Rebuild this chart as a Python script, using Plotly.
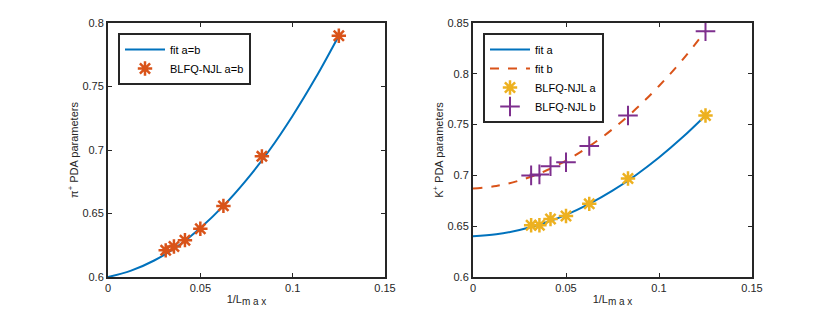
import plotly.graph_objects as go

# ---- data ----
x_pts = [0.125, 0.08333, 0.0625, 0.05, 0.04167, 0.03571, 0.03125]
pion_ab = [0.790, 0.695, 0.656, 0.638, 0.629, 0.624, 0.621]
kaon_a = [0.759, 0.697, 0.672, 0.660, 0.657, 0.651, 0.651]
kaon_b = [0.842, 0.759, 0.729, 0.713, 0.709, 0.701, 0.700]

x_fit = [0, 0.0125, 0.025, 0.0375, 0.05, 0.0625, 0.075, 0.0875, 0.1, 0.1125, 0.125]
pion_fit = [0.600, 0.605, 0.613, 0.624, 0.6386, 0.656, 0.6765, 0.700, 0.727, 0.757, 0.790]
kaon_fit_a = [0.640, 0.642, 0.6462, 0.6526, 0.6612, 0.672, 0.685, 0.7002, 0.7176, 0.7372, 0.759]
kaon_fit_b = [0.687, 0.6896, 0.695, 0.7033, 0.7145, 0.7286, 0.7455, 0.7653, 0.788, 0.8135, 0.842]

x_ticks = [0, 0.05, 0.1, 0.15]
x_ticklabels = ["0", "0.05", "0.1", "0.15"]
yl_ticks = [0.6, 0.65, 0.7, 0.75, 0.8]
yr_ticks = [0.6, 0.65, 0.7, 0.75, 0.8, 0.85]

BLUE = "#0072BD"
ORANGE = "#D95319"
YELLOW = "#EDB120"
PURPLE = "#7E2F8E"
TXT = "#262626"
FONT = "Liberation Sans, Arial, sans-serif"

W, H = 830, 312
ML, MR, MT, MB = 50, 50, 10, 25
PW, PH = W - ML - MR, H - MT - MB


def xd(a, b):
    return [(a - ML) / PW, (b - ML) / PW]


def yd(top, bottom):
    return [(H - MB - bottom) / PH, (H - MB - top) / PH]


fig = go.Figure()

fig.add_trace(go.Scatter(x=x_fit, y=pion_fit, mode="lines", name="fit a=b",
                         line=dict(color=BLUE, width=2, shape="spline"),
                         xaxis="x", yaxis="y", legend="legend"))
fig.add_trace(go.Scatter(x=x_pts, y=pion_ab, mode="markers", name="BLFQ-NJL a=b",
                         marker=dict(symbol="asterisk-open", size=12, color=ORANGE,
                                     line=dict(color=ORANGE, width=2.5)),
                         xaxis="x", yaxis="y", legend="legend"))

fig.add_trace(go.Scatter(x=x_fit, y=kaon_fit_a, mode="lines", name="fit a",
                         line=dict(color=BLUE, width=2, shape="spline"),
                         xaxis="x2", yaxis="y2", legend="legend2"))
fig.add_trace(go.Scatter(x=x_fit, y=kaon_fit_b, mode="lines", name="fit b",
                         line=dict(color=ORANGE, width=2, dash="dash", shape="spline"),
                         xaxis="x2", yaxis="y2", legend="legend2"))
fig.add_trace(go.Scatter(x=x_pts, y=kaon_a, mode="markers", name="BLFQ-NJL a",
                         marker=dict(symbol="asterisk-open", size=12, color=YELLOW,
                                     line=dict(color=YELLOW, width=2.5)),
                         xaxis="x2", yaxis="y2", legend="legend2"))
fig.add_trace(go.Scatter(x=x_pts, y=kaon_b, mode="markers", name="BLFQ-NJL b",
                         marker=dict(symbol="cross-thin-open", size=14, color=PURPLE,
                                     line=dict(color=PURPLE, width=2)),
                         xaxis="x2", yaxis="y2", legend="legend2"))

ax_common = dict(showline=True, linecolor="#262626", linewidth=2, mirror="ticks",
                 ticks="inside", ticklen=4, tickwidth=1, tickcolor="#262626",
                 showgrid=False, zeroline=False, automargin=False,
                 tickfont=dict(family=FONT, size=11, color=TXT))

ydom = yd(23, 277)
XTITLE = "1/L<sub><span style='font-size:10px'>m a x</span></sub>"
tfont = dict(family=FONT, size=11, color=TXT)

fig.update_layout(
    width=W, height=H,
    margin=dict(l=ML, r=MR, t=MT, b=MB),
    paper_bgcolor="white", plot_bgcolor="white",
    font=dict(family=FONT, color=TXT),
    xaxis=dict(domain=xd(108, 385), range=[0, 0.15], tickvals=x_ticks,
               ticktext=x_ticklabels, anchor="y",
               title=dict(text=XTITLE, font=tfont, standoff=2),
               **ax_common),
    yaxis=dict(domain=ydom, range=[0.6, 0.8], tickvals=yl_ticks, anchor="x",
               title=dict(text="π<sup>+</sup> PDA parameters", font=tfont, standoff=2),
               **ax_common),
    xaxis2=dict(domain=xd(473, 752), range=[0, 0.15], tickvals=x_ticks,
                ticktext=x_ticklabels, anchor="y2",
                title=dict(text=XTITLE, font=tfont, standoff=2),
                **ax_common),
    yaxis2=dict(domain=ydom, range=[0.6, 0.85], tickvals=yr_ticks, anchor="x2",
                title=dict(text="K<sup>+</sup> PDA parameters", font=tfont, standoff=2),
                **ax_common),
    legend=dict(x=(118 - ML) / PW, y=(H - MB - 33) / PH, xanchor="left", yanchor="top",
                xref="paper", yref="paper",
                bordercolor="#262626", borderwidth=2, bgcolor="white",
                font=dict(family=FONT, size=11, color="black"),
                tracegroupgap=0, itemwidth=40),
    legend2=dict(x=(483 - ML) / PW, y=(H - MB - 33) / PH, xanchor="left", yanchor="top",
                 xref="paper", yref="paper",
                 bordercolor="#262626", borderwidth=2, bgcolor="white",
                 font=dict(family=FONT, size=11, color="black"),
                 tracegroupgap=0, itemwidth=40),
    showlegend=True,
)

fig.write_html("out.html", config={"displayModeBar": False},
               post_script="document.body.style.margin='0';document.body.style.overflow='hidden';")
